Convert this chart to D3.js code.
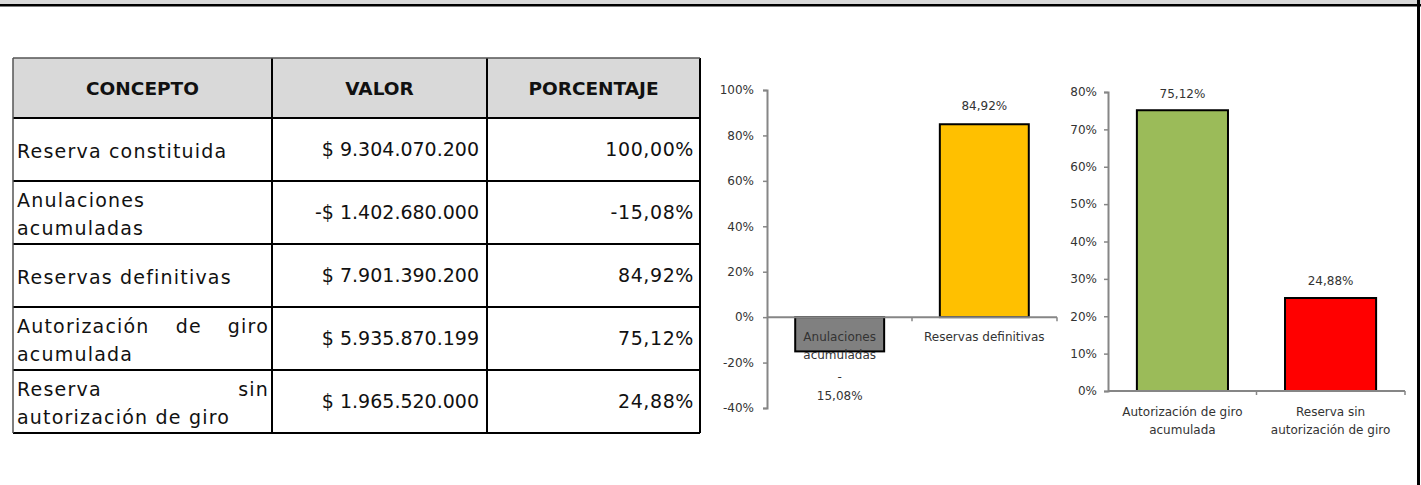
<!DOCTYPE html>
<html>
<head>
<meta charset="utf-8">
<script src="https://cdn.jsdelivr.net/npm/d3@7.9.0/dist/d3.min.js"></script>
<style>
  html, body { margin: 0; padding: 0; background: #fff; }
  svg { display: block; font-family: "DejaVu Sans", sans-serif; }
</style>
</head>
<body>
<svg id="page" width="1421" height="485"></svg>
<script>
// ---- data ----
const headers = ['CONCEPTO', 'VALOR', 'PORCENTAJE'];
const concepts = [
  'Reserva constituida',
  'Anulaciones\nacumuladas',
  'Reservas definitivas',
  'Autorización de giro\nacumulada',
  'Reserva sin\nautorización de giro'
];
const valores = [9304070200, -1402680000, 7901390200, 5935870199, 1965520000];
const porcentajes = [100.00, -15.08, 84.92, 75.12, 24.88];

const cats1 = ['Anulaciones\nacumuladas', 'Reservas definitivas'];
const vals1 = [-15.08, 84.92];
const colors1 = ['#808080', '#FFC000'];
const ticks1 = [-40, -20, 0, 20, 40, 60, 80, 100];

const cats2 = ['Autorización de giro\nacumulada', 'Reserva sin\nautorización de giro'];
const vals2 = [75.12, 24.88];
const colors2 = ['#9BBB59', '#FF0000'];
const ticks2 = [0, 10, 20, 30, 40, 50, 60, 70, 80];

const loc = d3.formatLocale({
  decimal: ',', thousands: '.', grouping: [3], currency: ['$ ', ''], minus: '-'
});
const fmtMoney = loc.format('$,.0f');
const fmtPct = (v) => loc.format(',.2f')(v) + '%';

const svg = d3.select('#page');

// page frame
svg.append('rect').attr('x', 0).attr('y', 0).attr('width', 1421).attr('height', 4).attr('fill', '#d9d9d9');
svg.append('rect').attr('x', 0).attr('y', 4).attr('width', 1421).attr('height', 2.5).attr('fill', '#000');
svg.append('rect').attr('x', 1417).attr('y', 0).attr('width', 3).attr('height', 485).attr('fill', '#000');

// ---- table ----
const colX = [13, 272, 487, 700];
const rowY = [58, 118, 181, 244, 307, 370, 433];
const table = svg.append('g');

table.append('rect')
  .attr('x', colX[0]).attr('y', rowY[0])
  .attr('width', colX[3] - colX[0]).attr('height', rowY[1] - rowY[0])
  .attr('fill', '#d9d9d9');

table.selectAll('.hdr').data(headers).join('text')
  .attr('x', (d, i) => (colX[i] + colX[i + 1]) / 2)
  .attr('y', (rowY[0] + rowY[1]) / 2)
  .attr('dy', '0.36em')
  .attr('text-anchor', 'middle')
  .attr('font-weight', 'bold')
  .attr('font-size', 18.5)
  .attr('fill', '#111')
  .text((d) => d);

const lineH = 28;
const cellW = colX[1] - colX[0] - 7;
const conceptText = (sel) => sel.attr('font-size', 19).attr('letter-spacing', 1.2).attr('fill', '#111');
concepts.forEach((c, i) => {
  const lines = c.split('\n');
  const cy = (rowY[i + 1] + rowY[i + 2]) / 2;
  lines.forEach((ln, j) => {
    const y = cy + 2 + (j - (lines.length - 1) / 2) * lineH;
    const last = j === lines.length - 1;
    const words = ln.split(' ');
    if (last || words.length < 2) {
      table.append('text').attr('x', colX[0] + 4).attr('y', y).attr('dy', '0.36em')
        .call(conceptText).text(ln);
    } else {
      // justified line
      const nodes = words.map((w) => table.append('text').attr('y', y).attr('dy', '0.36em')
        .call(conceptText).text(w));
      const widths = nodes.map((n) => n.node().getComputedTextLength());
      const gap = (cellW - d3.sum(widths)) / (words.length - 1);
      let x = colX[0] + 4;
      nodes.forEach((n, k) => { n.attr('x', x); x += widths[k] + gap; });
    }
  });
  table.append('text').attr('x', colX[2] - 8).attr('y', cy).attr('dy', '0.36em')
    .attr('text-anchor', 'end').attr('font-size', 19).attr('fill', '#111')
    .text(fmtMoney(valores[i]));
  table.append('text').attr('x', colX[3] - 6).attr('y', cy).attr('dy', '0.36em')
    .attr('text-anchor', 'end').attr('font-size', 19).attr('letter-spacing', 0.6).attr('fill', '#111')
    .text(fmtPct(porcentajes[i]));
});

// grid lines
rowY.slice(1).forEach((y) => {
  table.append('line').attr('x1', colX[0]).attr('x2', colX[3]).attr('y1', y).attr('y2', y)
    .attr('stroke', '#000').attr('stroke-width', 2);
});
colX.slice(1).forEach((x) => {
  table.append('line').attr('x1', x).attr('x2', x).attr('y1', rowY[0]).attr('y2', rowY[6])
    .attr('stroke', '#000').attr('stroke-width', 2);
});
table.append('line').attr('x1', colX[0]).attr('x2', colX[3]).attr('y1', rowY[0]).attr('y2', rowY[0])
  .attr('stroke', '#555').attr('stroke-width', 1.5);
table.append('line').attr('x1', colX[0]).attr('x2', colX[0]).attr('y1', rowY[0]).attr('y2', rowY[6])
  .attr('stroke', '#555').attr('stroke-width', 1.5);

// ---- bar charts ----
function barChart(opts) {
  const { cats, vals, colors, ticks, yRange, xRange, domain, pad, catY, lblGap } = opts;
  const g = svg.append('g');
  const y = d3.scaleLinear().domain(domain).range(yRange);
  const x = d3.scaleBand().domain(cats).range(xRange).paddingInner(0.385).paddingOuter(0.195);
  const axisCol = '#868686';

  const yAxis = d3.axisLeft(y).tickValues(ticks).tickSize(4).tickPadding(pad)
    .tickFormat((d) => d + '%');
  const ag = g.append('g').attr('transform', `translate(${xRange[0]},0)`).call(yAxis);
  ag.select('.domain').attr('stroke', axisCol).attr('stroke-width', 2);
  ag.selectAll('.tick line').attr('stroke', axisCol).attr('stroke-width', 1.5);
  ag.selectAll('.tick text').attr('font-size', 12).attr('fill', '#333')
    .attr('font-family', '"DejaVu Sans", sans-serif');

  // bars
  g.selectAll('.bar').data(vals).join('rect')
    .attr('x', (d, i) => x(cats[i]))
    .attr('width', x.bandwidth())
    .attr('y', (d) => y(Math.max(0, d)))
    .attr('height', (d) => Math.abs(y(d) - y(0)))
    .attr('fill', (d, i) => colors[i])
    .attr('stroke', '#000').attr('stroke-width', 2);

  // category axis
  const y0 = y(0);
  g.append('line').attr('x1', xRange[0]).attr('x2', xRange[1]).attr('y1', y0).attr('y2', y0)
    .attr('stroke', axisCol).attr('stroke-width', 2);
  const bounds = cats.slice(1).map((c) => x(c) - x.step() * x.paddingInner() / 2).concat([xRange[1]]);
  bounds.forEach((bx) => {
    g.append('line').attr('x1', bx).attr('x2', bx).attr('y1', y0).attr('y2', y0 + 4)
      .attr('stroke', axisCol).attr('stroke-width', 1.5);
  });
  cats.forEach((c, i) => {
    c.split('\n').forEach((ln, j) => {
      g.append('text').attr('x', x(c) + x.bandwidth() / 2).attr('y', y0 + catY + j * 18)
        .attr('dy', '0.36em').attr('text-anchor', 'middle').attr('font-size', 12)
        .attr('fill', '#333').text(ln);
    });
  });

  // data labels
  vals.forEach((v, i) => {
    const cx = x(cats[i]) + x.bandwidth() / 2;
    if (v >= 0) {
      g.append('text').attr('x', cx).attr('y', y(v) - lblGap).attr('dy', '0.36em')
        .attr('text-anchor', 'middle').attr('font-size', 12).attr('fill', '#333')
        .text(fmtPct(v));
    } else {
      ['-', fmtPct(-v)].forEach((ln, j) => {
        g.append('text').attr('x', cx).attr('y', y(v) + 25 + j * 19).attr('dy', '0.36em')
          .attr('text-anchor', 'middle').attr('font-size', 12).attr('fill', '#333').text(ln);
      });
    }
  });
}

barChart({
  cats: cats1, vals: vals1, colors: colors1, ticks: ticks1,
  domain: [-40, 100], yRange: [408, 90], xRange: [767, 1057], pad: 9, catY: 20, lblGap: 19
});
barChart({
  cats: cats2, vals: vals2, colors: colors2, ticks: ticks2,
  domain: [0, 80], yRange: [391, 92], xRange: [1108, 1405], pad: 7, catY: 21, lblGap: 17
});
</script>
</body>
</html>
